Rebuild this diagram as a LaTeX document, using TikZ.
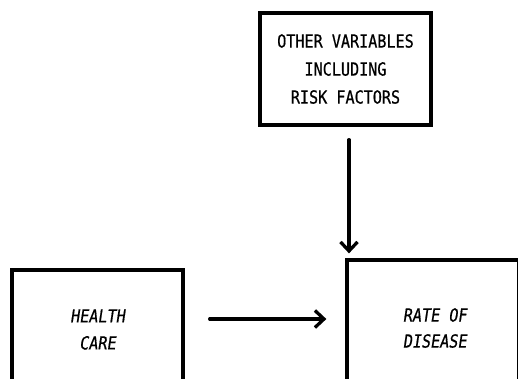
\documentclass[tikz,border=0pt]{standalone}
\usepackage{fontspec}
\usetikzlibrary{arrows.meta}
\newfontfamily\labup[FakeStretch=0.84,FakeBold=0.6]{DejaVu Sans Mono}
\newfontfamily\labit[FakeStretch=0.84,FakeSlant=0.15,FakeBold=0.6]{DejaVu Sans Mono}
\tikzset{
  box/.style={draw, line width=3.3pt, rectangle, align=center, inner sep=0pt},
  arr/.style={line width=3.3pt, line cap=round, -{Straight Barb[length=9pt,width=17pt,line width=3.3pt]}},
}
\begin{document}
\begin{tikzpicture}[x=1pt,y=-1pt]
\useasboundingbox (0,0) rectangle (518,378);
\clip (0,0) rectangle (518,378);
\fill[white] (0,0) rectangle (518,378);
\node[box, minimum width=171pt, minimum height=112pt,
      font=\labup\fontsize{18}{28}\selectfont] (other) at (345.5,69)
  {OTHER VARIABLES\\INCLUDING\\RISK FACTORS};
\node[box, minimum width=171pt, minimum height=119pt,
      font=\labit\fontsize{18}{27}\selectfont] (health) at (97.5,329.5)
  {HEALTH\\CARE};
\node[box, minimum width=171.5pt, minimum height=136pt,
      font=\labit\fontsize{18}{26}\selectfont] (rate) at (432.75,328)
  {\hspace*{4pt}RATE OF\\\hspace*{4pt}DISEASE};
\draw[arr, shorten <=13pt, shorten >=5pt]
  ([xshift=3.5pt]other.south) -- ([xshift=3.5pt]other.south |- rate.north);
\draw[arr, shorten <=25pt, shorten >=19pt]
  ([yshift=10.5pt]health.east) -- ([yshift=10.5pt]health.east -| rate.west);
\end{tikzpicture}
\end{document}
